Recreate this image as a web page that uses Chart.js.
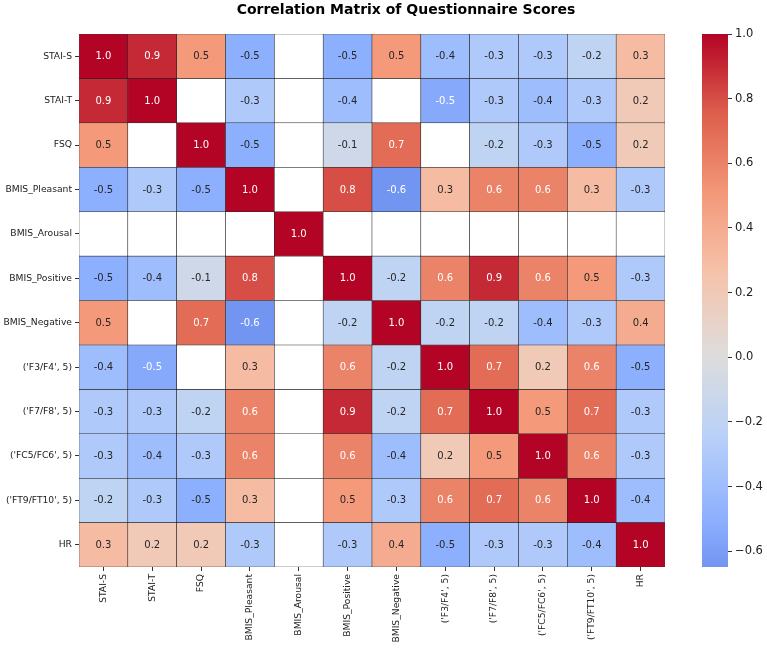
<!DOCTYPE html>
<html>
<head>
<meta charset="utf-8">
<script src="https://cdn.jsdelivr.net/npm/chart.js@4.4.1/dist/chart.umd.min.js"></script>
<style>
  html, body { margin: 0; padding: 0; background: #fff; }
  #wrap { position: relative; width: 767px; height: 648px; }
  #wrap canvas { position: absolute; left: 0; top: 0; }
  #title {
    position: absolute; top: 0; left: 206px; width: 400px; text-align: center;
    font: bold 14px "DejaVu Sans", sans-serif; color: #000; line-height: 18px;
  }
</style>
</head>
<body>
<div id="wrap">
  <canvas id="heat" width="767" height="648"></canvas>
  <canvas id="cbar" width="767" height="648"></canvas>
  <div id="title">Correlation Matrix of Questionnaire Scores</div>
</div>
<script>
const labels = ['STAI-S', 'STAI-T', 'FSQ', 'BMIS_Pleasant', 'BMIS_Arousal', 'BMIS_Positive',
  'BMIS_Negative', "('F3/F4', 5)", "('F7/F8', 5)", "('FC5/FC6', 5)", "('FT9/FT10', 5)", 'HR']

// one row of the matrix per variable (null = empty cell)
const staiS = [1.0, 0.9, 0.5, -0.5, null, -0.5, 0.5, -0.4, -0.3, -0.3, -0.2, 0.3]
const staiT = [0.9, 1.0, null, -0.3, null, -0.4, null, -0.54, -0.3, -0.4, -0.3, 0.2]
const fsq = [0.5, null, 1.0, -0.5, null, -0.1, 0.7, null, -0.2, -0.3, -0.5, 0.2]
const bmisPleasant = [-0.5, -0.3, -0.5, 1.0, null, 0.8, -0.649, 0.3, 0.6, 0.6, 0.3, -0.3]
const bmisArousal = [null, null, null, null, 1.0, null, null, null, null, null, null, null]
const bmisPositive = [-0.5, -0.4, -0.1, 0.8, null, 1.0, -0.2, 0.6, 0.9, 0.6, 0.5, -0.3]
const bmisNegative = [0.5, null, 0.7, -0.649, null, -0.2, 1.0, -0.2, -0.2, -0.4, -0.3, 0.4]
const f3f4 = [-0.4, -0.54, null, 0.3, null, 0.6, -0.2, 1.0, 0.7, 0.2, 0.6, -0.5]
const f7f8 = [-0.3, -0.3, -0.2, 0.6, null, 0.9, -0.2, 0.7, 1.0, 0.5, 0.7, -0.3]
const fc5fc6 = [-0.3, -0.4, -0.3, 0.6, null, 0.6, -0.4, 0.2, 0.5, 1.0, 0.6, -0.3]
const ft9ft10 = [-0.2, -0.3, -0.5, 0.3, null, 0.5, -0.3, 0.6, 0.7, 0.6, 1.0, -0.4]
const hr = [0.3, 0.2, 0.2, -0.3, null, -0.3, 0.4, -0.5, -0.3, -0.3, -0.4, 1.0]

const matrix = [staiS, staiT, fsq, bmisPleasant, bmisArousal, bmisPositive,
  bmisNegative, f3f4, f7f8, fc5fc6, ft9ft10, hr]

const cbarTicks = [-0.6, -0.4, -0.2, 0.0, 0.2, 0.4, 0.6, 0.8, 1.0]

const allVals = matrix.flat().filter(v => v !== null)
const vmin = Math.min(...allVals)
const vmax = Math.max(...allVals)

// coolwarm, centred on 0
const STOPS = [
  [0.0, 59, 76, 192], [0.125, 98, 130, 234], [0.25, 141, 176, 254],
  [0.375, 184, 208, 249], [0.5, 221, 221, 221], [0.625, 245, 196, 173],
  [0.75, 244, 154, 123], [0.875, 222, 96, 77], [1.0, 180, 4, 38],
]

function rgbFor (v) {
  const t = Math.max(0, Math.min(1, (v + 1) / 2))
  for (let i = 1; i < STOPS.length; i++) {
    if (t <= STOPS[i][0]) {
      const a = STOPS[i - 1], b = STOPS[i]
      const f = (t - a[0]) / (b[0] - a[0])
      return [1, 2, 3].map(k => a[k] + (b[k] - a[k]) * f)
    }
  }
  return STOPS[STOPS.length - 1].slice(1)
}

function colorFor (v) {
  if (v === null) return '#ffffff'
  const c = rgbFor(v)
  return `rgb(${c.map(Math.round).join(',')})`
}

function textColorFor (v) {
  const lin = rgbFor(v).map(c => {
    c /= 255
    return c <= 0.03928 ? c / 12.92 : Math.pow((c + 0.055) / 1.055, 2.4)
  })
  const lum = 0.2126 * lin[0] + 0.7152 * lin[1] + 0.0722 * lin[2]
  return lum > 0.408 ? '#262626' : '#ffffff'
}

const FONT = '"DejaVu Sans", sans-serif'
const TOP = 34, BOTTOM = 648 - 567

const cellLabels = {
  id: 'cellLabels',
  afterDatasetsDraw (chart) {
    const ctx = chart.ctx
    ctx.save()
    ctx.font = `10px ${FONT}`
    ctx.textAlign = 'center'
    ctx.textBaseline = 'middle'
    chart.data.datasets.forEach((ds, r) => {
      chart.getDatasetMeta(r).data.forEach((el, c) => {
        const v = matrix[r][c]
        if (v === null) return
        const p = el.getCenterPoint()
        ctx.fillStyle = textColorFor(v)
        ctx.fillText(v.toFixed(1), p.x, p.y + 0.5)
      })
    })
    ctx.restore()
  },
}

new Chart(document.getElementById('heat'), {
  type: 'bar',
  data: {
    labels,
    datasets: matrix.map((row, r) => ({
      label: labels[r],
      data: row.map(() => [r, r + 1]),
      backgroundColor: row.map(colorFor),
      borderColor: 'rgba(20,20,20,0.85)',
      borderWidth: 0.6,
      borderSkipped: false,
      barPercentage: 1,
      categoryPercentage: 1,
      grouped: false,
    })),
  },
  options: {
    responsive: false,
    animation: false,
    layout: { padding: { left: 0, top: TOP, right: 767 - 665, bottom: 0 } },
    plugins: { legend: { display: false }, tooltip: { enabled: false }, title: { display: false } },
    scales: {
      x: {
        type: 'category',
        border: { display: false },
        grid: { drawOnChartArea: false, drawTicks: true, tickLength: 4, color: '#333', offset: false },
        ticks: { color: '#222', font: { family: FONT, size: 9.2 }, minRotation: 90, maxRotation: 90, padding: 3 },
        afterFit (s) { s.height = BOTTOM },
      },
      y: {
        type: 'linear',
        min: 0,
        max: labels.length,
        reverse: true,
        border: { display: false },
        grid: { drawOnChartArea: false, drawTicks: true, tickLength: 4, color: '#333' },
        afterBuildTicks (s) { s.ticks = labels.map((_, i) => ({ value: i + 0.5 })) },
        ticks: {
          color: '#222',
          font: { family: FONT, size: 9.2 },
          padding: 3,
          callback: (v, i) => labels[i],
        },
        afterFit (s) { s.width = 79 },
      },
    },
  },
  plugins: [cellLabels],
})

new Chart(document.getElementById('cbar'), {
  type: 'bar',
  data: {
    labels: ['cbar'],
    datasets: [{
      data: [[vmin, vmax]],
      backgroundColor (ctx) {
        const chart = ctx.chart
        if (!chart.chartArea) return '#ddd'
        const ys = chart.scales.y
        const y0 = ys.getPixelForValue(vmin), y1 = ys.getPixelForValue(vmax)
        const g = chart.ctx.createLinearGradient(0, y0, 0, y1)
        const n = 40
        for (let i = 0; i <= n; i++) g.addColorStop(i / n, colorFor(vmin + (vmax - vmin) * i / n))
        return g
      },
      borderWidth: 0,
      barPercentage: 1,
      categoryPercentage: 1,
    }],
  },
  options: {
    responsive: false,
    animation: false,
    layout: { padding: { left: 702, top: TOP, right: 0, bottom: BOTTOM } },
    plugins: { legend: { display: false }, tooltip: { enabled: false } },
    scales: {
      x: { display: false },
      y: {
        position: 'right',
        min: vmin,
        max: vmax,
        border: { display: false },
        grid: { drawOnChartArea: false, drawTicks: true, tickLength: 4, color: '#333' },
        afterBuildTicks (s) { s.ticks = cbarTicks.map(v => ({ value: v })) },
        ticks: {
          color: '#222',
          font: { family: FONT, size: 11.5 },
          padding: 3,
          callback: v => (v < -1e-9 ? '\u2212' : '') + Math.abs(v).toFixed(1),
        },
        afterFit (s) { s.width = 767 - 728 },
      },
    },
  },
})
</script>
</body>
</html>
